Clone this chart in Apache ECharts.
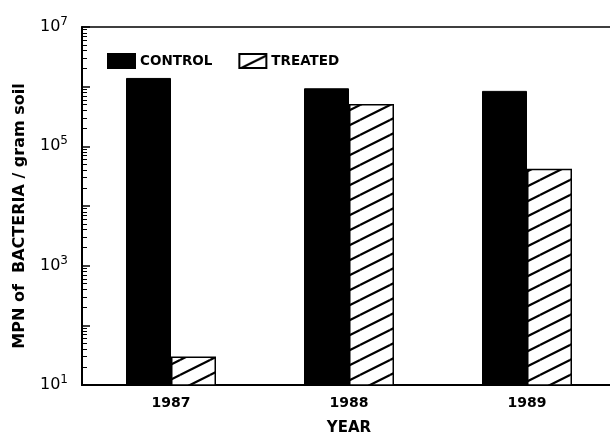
<!DOCTYPE html>
<html>
<head>
<meta charset="utf-8">
<script src="https://cdn.jsdelivr.net/npm/echarts@6/dist/echarts.min.js"></script>
<style>html,body{margin:0;padding:0;background:#fff}#c{width:610px;height:434px}</style>
</head>
<body>
<div id="c"></div>
<script>
const years = ['1987', '1988', '1989'];
const control = [1.4e6, 9.4e5, 8.5e5];
const treated = [30, 5.1e5, 4.2e4];
const majorTicks = [10, 100, 1e3, 1e4, 1e5, 1e6, 1e7];
const labelTicks = [10, 1e3, 1e5, 1e7];
const minorTicks = [];
for (let e = 1; e < 7; e++) for (let m = 2; m <= 9; m++) minorTicks.push(m * Math.pow(10, e));

function hatch() {
  const W = 30, H = 15;
  const cv = document.createElement('canvas');
  cv.width = W; cv.height = H;
  const ctx = cv.getContext('2d');
  ctx.fillStyle = '#fff'; ctx.fillRect(0, 0, W, H);
  ctx.strokeStyle = '#000'; ctx.lineWidth = 2.2;
  for (const [dx, dy] of [[0,0],[W,0],[-W,0],[0,H],[0,-H]]) {
    ctx.beginPath(); ctx.moveTo(dx, H + dy); ctx.lineTo(W + dx, dy); ctx.stroke();
  }
  return cv;
}

const FONT = 'DejaVu Sans';
const chart = echarts.init(document.getElementById('c'), null, {renderer: 'canvas'});
const pattern = {image: hatch(), repeat: 'repeat'};
chart.setOption({
  animation: false,
  backgroundColor: '#fff',
  textStyle: {fontFamily: FONT},
  legend: {
    left: 107, top: 53, padding: 0, itemWidth: 27, itemHeight: 14, itemGap: 26, icon: 'rect',
    textStyle: {fontFamily: FONT, fontWeight: 'bold', fontSize: 13.5, color: '#000', lineHeight: 14},
    data: ['CONTROL', 'TREATED']
  },
  grid: {left: 82, top: 27, width: 534, height: 358, outerBoundsMode: 'none', containLabel: false,
    show: true, borderColor: '#000', borderWidth: 1.5, backgroundColor: 'transparent'},
  xAxis: {
    type: 'category', data: years,
    axisLine: {lineStyle: {color: '#000', width: 2}},
    axisTick: {show: false},
    axisLabel: {color: '#000', fontFamily: FONT, fontWeight: 'bold', fontSize: 14, margin: 11},
    name: 'YEAR', nameLocation: 'middle', nameGap: 36,
    nameTextStyle: {color: '#000', fontFamily: FONT, fontWeight: 'bold', fontSize: 15}
  },
  yAxis: [{
    type: 'log', logBase: 10, min: 10, max: 1e7,
    axisLine: {show: true, lineStyle: {color: '#000', width: 2}},
    axisTick: {show: true, inside: true, length: 8, lineStyle: {color: '#000', width: 1.5}, customValues: majorTicks},
    splitLine: {show: false},
    axisLabel: {
      customValues: labelTicks, margin: 14, color: '#000',
      formatter: v => '{b|10}{s|' + Math.round(Math.log10(v)) + '}',
      rich: {
        b: {fontFamily: FONT, fontSize: 16, color: '#000'},
        s: {fontFamily: FONT, fontSize: 12, color: '#000', padding: [0, 0, 10, 0]}
      }
    },
    name: 'MPN of  BACTERIA / gram soil', nameLocation: 'middle', nameGap: 54,
    nameTextStyle: {color: '#000', fontFamily: FONT, fontWeight: 'bold', fontSize: 16, padding: [0, 20, 0, 0]}
  }, {
    type: 'log', logBase: 10, min: 10, max: 1e7, position: 'left',
    axisLine: {show: false},
    axisTick: {show: true, inside: true, length: 5, lineStyle: {color: '#000', width: 1}, customValues: minorTicks},
    axisLabel: {show: false},
    splitLine: {show: false}
  }],
  series: [{
    name: 'CONTROL', type: 'bar', data: control, barWidth: 45, barGap: 0,
    itemStyle: {color: '#000', borderColor: '#000', borderWidth: 1}
  }, {
    name: 'TREATED', type: 'bar', data: treated, barWidth: 45, barGap: 0,
    itemStyle: {color: pattern, borderColor: '#000', borderWidth: 1.5}
  }]
});
</script>
</body>
</html>
